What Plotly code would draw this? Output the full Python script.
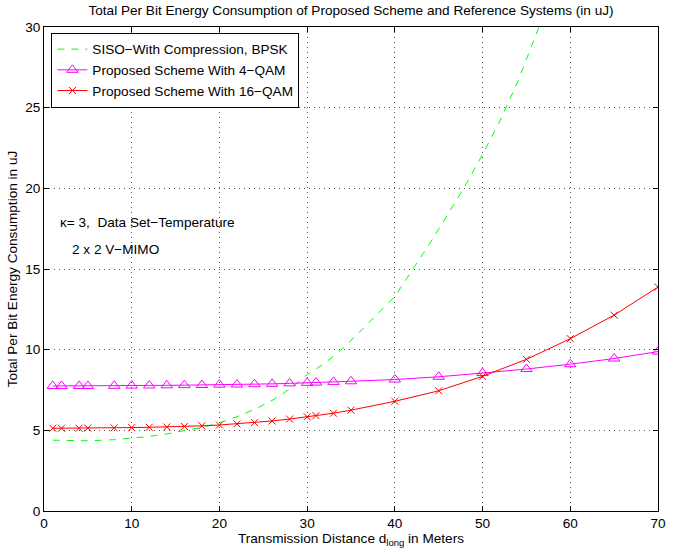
import plotly.graph_objects as go

# Data
x_green = [1, 3, 5, 8, 10, 12, 14, 16, 18, 20, 22, 24, 26, 28, 30, 32, 34, 36, 38, 40,
           42, 44, 46, 48, 50, 52, 54, 56, 58]
y_green = [4.39, 4.36, 4.35, 4.42, 4.52, 4.62, 4.78, 4.97, 5.18, 5.45, 5.85, 6.3, 6.85, 7.55,
           8.45, 9.15, 10.05, 11.1, 12.2, 13.3, 14.95, 16.6, 18.35, 20.15, 22.1, 24.2, 26.6,
           29.3, 32.2]

x_qam = [1, 2, 4, 5, 8, 10, 12, 14, 16, 18, 20, 22, 24, 26, 28, 30, 31, 33, 35, 40,
         45, 50, 55, 60, 65, 70]
y_4qam = [7.75, 7.75, 7.75, 7.75, 7.76, 7.77, 7.78, 7.79, 7.80, 7.81, 7.83, 7.84, 7.86,
          7.88, 7.91, 7.94, 7.96, 8.0, 8.04, 8.15, 8.32, 8.55, 8.8, 9.1, 9.45, 9.88]
y_16qam = [5.13, 5.13, 5.13, 5.14, 5.15, 5.17, 5.19, 5.21, 5.24, 5.28, 5.33, 5.40, 5.48,
           5.58, 5.70, 5.84, 5.91, 6.06, 6.25, 6.80, 7.45, 8.35, 9.40, 10.68, 12.14, 13.88]

x_ticks = [0, 10, 20, 30, 40, 50, 60, 70]
y_ticks = [0, 5, 10, 15, 20, 25, 30]

FONT = "Liberation Sans, Arial, Helvetica, sans-serif"
FS = 13.6

fig = go.Figure()
fig.add_trace(go.Scatter(
    x=x_green, y=y_green, mode="lines", name="SISO\u2212With Compression, BPSK",
    line=dict(color="#00ff00", width=1, dash="7px,7px")))
fig.add_trace(go.Scatter(
    x=x_qam, y=y_4qam, mode="lines+markers", name="Proposed Scheme With 4\u2212QAM",
    line=dict(color="#ff00ff", width=1),
    marker=dict(symbol="triangle-up-open", size=10, color="#ff00ff", line=dict(width=1, color="#ff00ff"))))
fig.add_trace(go.Scatter(
    x=x_qam, y=y_16qam, mode="lines+markers", name="Proposed Scheme With 16\u2212QAM",
    line=dict(color="#ff0000", width=1),
    marker=dict(symbol="x-thin-open", size=7, color="#ff0000", line=dict(width=1, color="#ff0000"))))

axis_common = dict(
    showline=True, linecolor="black", linewidth=1, mirror="ticks",
    ticks="inside", ticklen=5, tickcolor="black",
    showgrid=True, gridcolor="#555555", griddash="1px,4px", gridwidth=1,
    zeroline=False, tickfont=dict(family=FONT, size=FS, color="black"),
)

fig.update_xaxes(range=[0, 70], tickvals=x_ticks,
                 title=dict(text="Transmission Distance d<sub>long</sub> in Meters",
                            font=dict(family=FONT, size=FS, color="black"), standoff=1),
                 **axis_common)
fig.update_yaxes(range=[0, 30], tickvals=y_ticks,
                 title=dict(text="Total Per Bit Energy Consumption in uJ",
                            font=dict(family=FONT, size=FS, color="black"), standoff=4),
                 **axis_common)

fig.add_annotation(x=1.6, y=17.9, xref="x", yref="y", xanchor="left", showarrow=False,
                   text="\u03ba= 3,  Data Set\u2212Temperature",
                   font=dict(family=FONT, size=FS, color="black"))
fig.add_annotation(x=3.0, y=16.2, xref="x", yref="y", xanchor="left", showarrow=False,
                   text="2 x 2 V\u2212MIMO",
                   font=dict(family=FONT, size=FS, color="black"))

fig.update_layout(
    width=678, height=554,
    margin=dict(l=42, r=15, t=27, b=38),
    paper_bgcolor="white", plot_bgcolor="white",
    title=dict(text="Total Per Bit Energy Consumption of Proposed Scheme and Reference Systems (in uJ)",
               x=0.5, xref="paper", y=1, yref="container", yanchor="top", pad=dict(t=5),
               font=dict(family=FONT, size=FS, color="black")),
    legend=dict(x=0.012, y=0.988, xanchor="left", yanchor="top",
                bgcolor="white", bordercolor="black", borderwidth=1,
                font=dict(family=FONT, size=FS, color="black"),
                tracegroupgap=0, itemwidth=30),
    showlegend=True,
)

fig.write_html("out.html")
